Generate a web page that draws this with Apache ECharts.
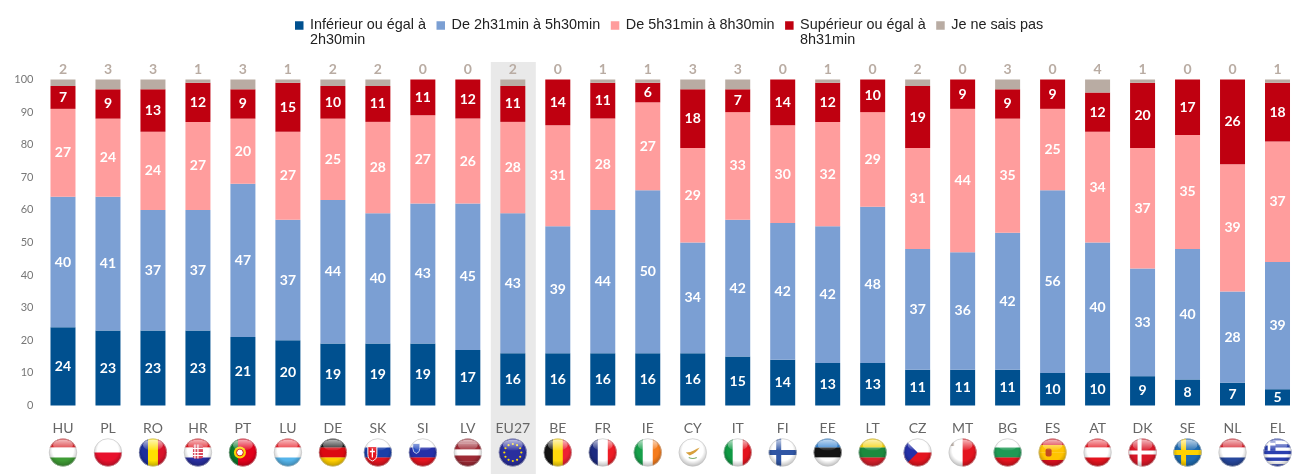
<!DOCTYPE html>
<html><head><meta charset="utf-8">
<style>html,body{margin:0;padding:0;background:#fff}#c{width:1293px;height:474px}</style>
<script src="https://cdn.jsdelivr.net/npm/echarts@6/dist/echarts.min.js"></script>
</head><body><div id="c"></div>
<script>
const categories = ['HU','PL','RO','HR','PT','LU','DE','SK','SI','LV','EU27','BE','FR','IE','CY','IT','FI','EE','LT','CZ','MT','BG','ES','AT','DK','SE','NL','EL'];
const under2h30 = [24,23,23,23,21,20,19,19,19,17,16,16,16,16,16,15,14,13,13,11,11,11,10,10,9,8,7,5];
const from2h31 = [40,41,37,37,47,37,44,40,43,45,43,39,44,50,34,42,42,42,48,37,36,42,56,40,33,40,28,39];
const from5h31 = [27,24,24,27,20,27,25,28,27,26,28,31,28,27,29,33,30,32,29,31,44,35,25,34,37,35,39,37];
const over8h31 = [7,9,13,12,9,15,10,11,11,12,11,14,11,6,18,7,14,12,10,19,9,9,9,12,20,17,26,18];
const dontKnow = [2,3,3,1,3,1,2,2,0,0,2,0,1,1,3,3,0,1,0,2,0,3,0,4,1,0,0,1];
const seriesNames = ['Inférieur ou égal à\n2h30min','De 2h31min à 5h30min','De 5h31min à 8h30min','Supérieur ou égal à\n8h31min','Je ne sais pas'];
const seriesColors = ['#00508f','#7b9fd3','#ff9d9d','#bf0010','#b9aca3'];
const yTicks = [0,10,20,30,40,50,60,70,80,90,100];

const hS = (...c)=>c.map((k,i)=>`<rect x="0" y="${30*i/c.length}" width="30" height="${30/c.length+.2}" fill="${k}"/>`).join('');
const vS = (...c)=>c.map((k,i)=>`<rect x="${30*i/c.length}" y="0" width="${30/c.length+.2}" height="30" fill="${k}"/>`).join('');
const cross=(bg,k,w=5,x=11)=>`<rect width="30" height="30" fill="${bg}"/><rect x="${x-w/2}" width="${w}" height="30" fill="${k}"/><rect y="${15-w/2}" width="30" height="${w}" fill="${k}"/>`;
const stars=Array.from({length:12},(_,i)=>{const a=i*Math.PI/6;return `<circle cx="${15+8.5*Math.cos(a)}" cy="${15+8.5*Math.sin(a)}" r="1.1" fill="#ffdc00"/>`}).join('');
const flagArt = {
 HU:hS('#d8262c','#fff','#3f9c35'), PL:hS('#fff','#e8112d'), RO:vS('#1d2f9c','#ffe100','#d9132a'),
 HR:hS('#e0161f','#fff','#2a2fa0')+'<rect x="10" y="7" width="10" height="14" rx="2" fill="#d9475a"/><path d="M12 7v14M15 7v14M18 7M10 11h10M10 15h10M10 18h10" stroke="#fff" stroke-width="1.2"/>',
 PT:vS('#0a7a2c','#e3001b','#e3001b')+'<circle cx="12" cy="15" r="6" fill="#ffd400"/><circle cx="12" cy="15" r="3.4" fill="#fff" stroke="#d01020"/>',
 LU:hS('#e8222c','#fff','#55b4ea'), DE:hS('#1a1a1a','#dc0a12','#ffce00'),
 SK:hS('#fff','#1a3fa8','#e4141f')+'<path d="M5 9h9v8q0 5-4.500 6.500Q5 22 5 17z" fill="#e4141f" stroke="#fff"/><path d="M9.500 11v9M7 14h5" stroke="#fff" stroke-width="1.300"/>',
 SI:hS('#fff','#2530a8','#e4141f')+'<path d="M5 6h7v5q0 4-3.500 5Q5 15 5 11z" fill="#2a4fc0" stroke="#fff" stroke-width=".7"/>',
 LV:hS('#9e2a35','#9e2a35','#fff','#9e2a35','#9e2a35'),
 EU27:'<rect width="30" height="30" fill="#2a2f9e"/>'+stars,
 BE:vS('#141414','#ffd90c','#ee2233'), FR:vS('#1c2a80','#fff','#ee1c25'), IE:vS('#16a04a','#fff','#f57c1c'),
 CY:'<rect width="30" height="30" fill="#fff"/><path d="M8 15q5 0 8-2t6-3q-2 3-4 4.500T12 18z" fill="#d8a03c"/><path d="M11 20q4 2 8 0" stroke="#7fae6d" stroke-width="1.200" fill="none"/>',
 IT:vS('#0f9a44','#fff','#e4141f'), FI:cross('#fff','#2f55a4'), EE:hS('#2f7fd0','#141414','#fff'),
 LT:hS('#f5d000','#1b8a3e','#d5202b'),
 CZ:hS('#fff','#e4141f')+'<path d="M0 0L15 15L0 30z" fill="#2530a8"/>',
 MT:vS('#fff','#e4141f')+'<rect x="3" y="5" width="3.500" height="3.500" fill="#b9aca3"/>',
 BG:hS('#fff','#1f9a55','#e4141f'),
 ES:hS('#d8101f','#ffc400','#ffc400','#d8101f')+'<rect x="8" y="11" width="6" height="8" rx="2" fill="#c44a20"/>',
 AT:hS('#e4141f','#fff','#e4141f'), DK:cross('#d91828','#fff',4,12),
 SE:cross('#1f6bb0','#ffd200',5,11), NL:hS('#d5202b','#fff','#27489c'),
 EL:'<rect width="30" height="30" fill="#2a3fb0"/>'+[3.300,10,16.700,23.400].map(y=>`<rect y="${y}" width="30" height="3.300" fill="#fff"/>`).join('')+'<rect width="13" height="13.300" fill="#2a3fb0"/><path d="M6.500 0v13.300M0 6.600h13" stroke="#fff" stroke-width="2.600"/>'
};
function flagUri(code){
 const svg=`<svg xmlns="http://www.w3.org/2000/svg" width="30" height="30" viewBox="0 0 30 30"><defs><clipPath id="c"><circle cx="15" cy="15" r="14"/></clipPath><radialGradient id="g" cx=".5" cy=".42" r=".62"><stop offset=".6" stop-color="#000" stop-opacity="0"/><stop offset="1" stop-color="#000" stop-opacity=".32"/></radialGradient><linearGradient id="s" x1="0" y1="0" x2="0" y2="1"><stop offset="0" stop-color="#fff" stop-opacity=".7"/><stop offset="1" stop-color="#fff" stop-opacity=".05"/></linearGradient></defs><g clip-path="url(#c)">${flagArt[code]}<circle cx="15" cy="15" r="14" fill="url(#g)"/></g><ellipse cx="15" cy="7.500" rx="10" ry="5.500" fill="url(#s)"/><circle cx="15" cy="15" r="13.800" fill="none" stroke="#c4c4c4" stroke-width=".6"/></svg>`;
 return 'data:image/svg+xml;charset=utf-8,'+encodeURIComponent(svg);
}
const labelRich={n:{fontFamily:'Lato',fontSize:14,color:'#666',lineHeight:18,align:'center'}};
categories.forEach(c=>{labelRich['f'+c]={width:30,height:30,align:'center',backgroundColor:{image:flagUri(c)}}});

const values=[under2h30,from2h31,from5h31,over8h31,dontKnow];
const chart=echarts.init(document.getElementById('c'),null,{renderer:'canvas'});
const labelFont={fontFamily:'Lato',fontWeight:'bold',fontSize:14,color:'#fff'};
chart.setOption({
 animation:false,backgroundColor:'#fff',
 grid:{left:40.5,top:79.5,width:1259.5,height:326,containLabel:false,outerBoundsMode:'none'},
 legend:{left:295,top:3,padding:0,itemWidth:8.5,itemHeight:8.5,itemGap:10.5,icon:'rect',
  textStyle:{fontFamily:'Liberation Sans',fontSize:14.4,color:'#222',lineHeight:15,padding:[0,0,0,1.5]},
  formatter:n=>n.includes('\n')?'\n'+n:n,
  data:seriesNames},
 xAxis:{type:'category',data:categories,axisLine:{show:false},axisTick:{show:false},
  axisLabel:{interval:0,margin:14,hideOverlap:false,rich:labelRich,formatter:v=>`{n|${v}}\n{f${v}|}`}},
 yAxis:{type:'value',min:0,max:100,interval:10,splitLine:{show:false},axisLine:{show:false},axisTick:{show:false},
  axisLabel:{margin:7,fontFamily:'Lato',fontSize:11,color:'#777',
   formatter:v=>yTicks.includes(v)?String(v):''}},
 series:values.map((d,i)=>({
  name:seriesNames[i],type:'bar',stack:'t',data:d,barWidth:25,
  itemStyle:{color:seriesColors[i]},
  label:i===4?{show:true,position:'top',distance:3,...labelFont,color:'#b9aca3'}
             :{show:true,position:'inside',...labelFont}
 }))
});
const cx=chart.convertToPixel({xAxisIndex:0},'EU27');
chart.setOption({graphic:[{type:'rect',z:-10,silent:true,shape:{x:cx-22,y:62,width:45,height:412},style:{fill:'#e9e9e9'}}]});
</script></body></html>
